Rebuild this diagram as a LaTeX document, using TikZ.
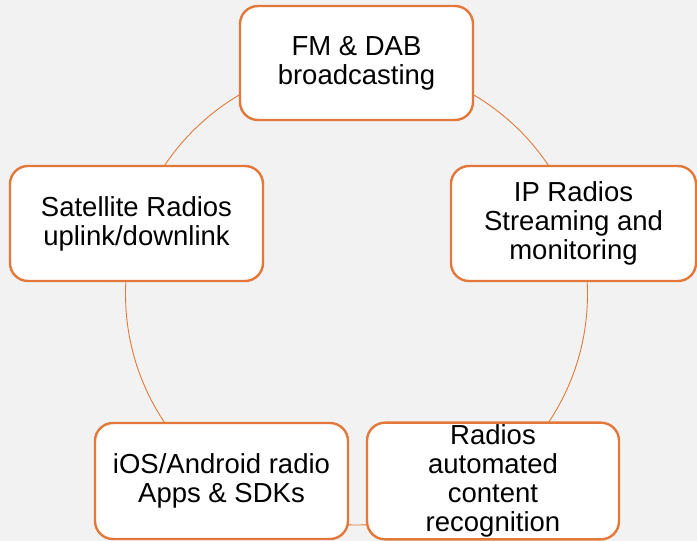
\documentclass[tikz,border=0pt]{standalone}
\usepackage{fontspec}
\setmainfont{Liberation Sans}
\usetikzlibrary{positioning}
\definecolor{ringorange}{HTML}{E2793A}
\definecolor{paper}{HTML}{F2F2F2}

\begin{document}
\begin{tikzpicture}
          [x=1pt,y=-1pt,
            every node/.style={rectangle,rounded corners=18pt,draw=ringorange,line width=2.4pt,
              fill=white,align=center,inner sep=2pt,font=\fontsize{27.5}{29}\selectfont},
            ring/.style={draw=ringorange,line width=0.9pt}]
          \fill[paper] (0,0) rectangle (697,541);
          \useasboundingbox (0,0) rectangle (697,541);
          \coordinate (hub) at (356.5,294);
          \draw[ring] (hub) circle[radius=231pt];
          \node[minimum width=233pt,minimum height=114pt] (fm) at (356.5,63) {FM \& DAB\\broadcasting};
          \node[minimum width=245pt,minimum height=115pt] (ip) at (573.5,223.5) {IP Radios\\Streaming and\\monitoring};
          \node[minimum width=252pt,minimum height=116pt] (acr) at (493,481) {Radios\\automated\\content\\recognition};
          \node[minimum width=253pt,minimum height=116pt] (apps) at (221.5,481) {iOS/Android radio\\Apps \& SDKs};
          \node[minimum width=253pt,minimum height=115pt] (sat) at (136.5,223.5) {Satellite Radios\\uplink/downlink};
        \end{tikzpicture}
\end{document}
